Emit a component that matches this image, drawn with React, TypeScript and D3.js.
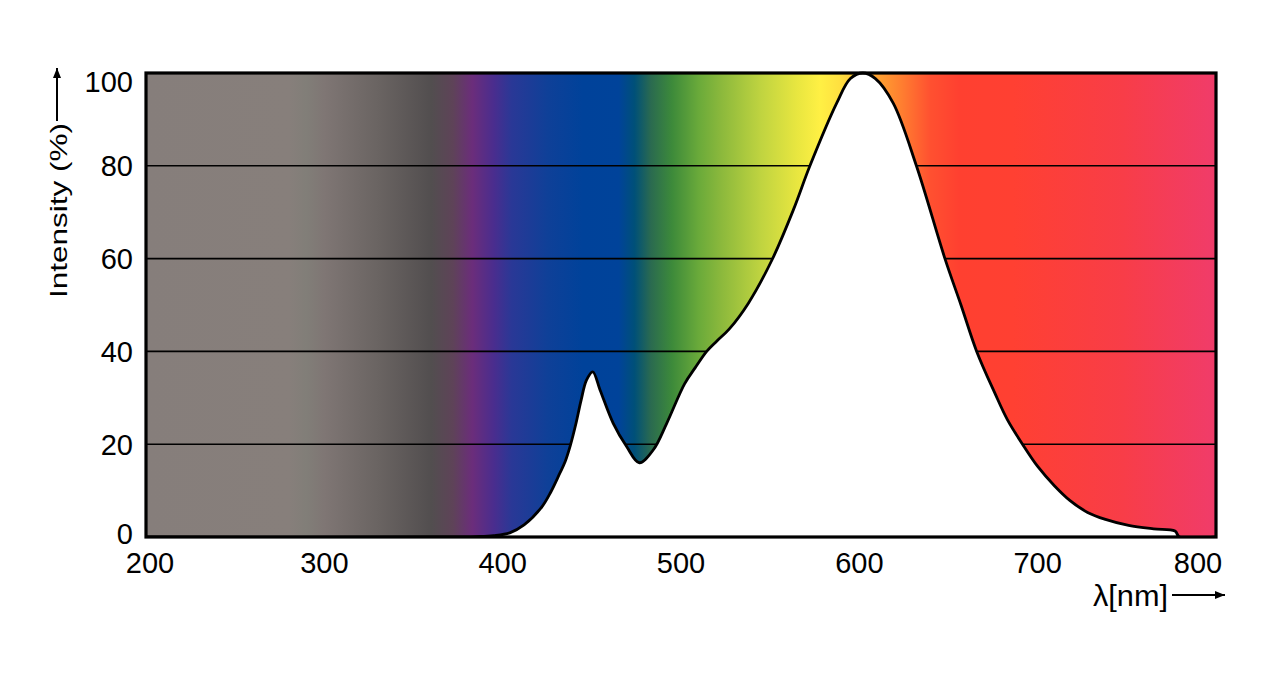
import { area, curveCatmullRom, line, scaleLinear } from "d3";

const wavelengths = [
  200, 370, 385, 395, 404, 412, 422, 427, 432, 435, 438, 441, 444, 447, 450.5,
  454.6, 462, 469.5, 476.6, 484.5, 492, 502, 508, 514.4, 520, 527, 537.8, 551,
  563, 572.3, 587.3, 595, 602, 609, 619, 632, 648, 657, 665.8, 676, 683, 691.5,
  700, 709.5, 718, 728, 738, 751, 765, 777, 779.5, 800,
];
const intensity = [
  0, 0, 0.1, 0.3, 0.9, 2.6, 6.5, 9.7, 13.7, 16.2, 19.8, 24.3, 29.5, 33.8, 35.6,
  31.7, 24.5, 19.5, 16, 18.8, 24.5, 33, 36.5, 40, 42.2, 44.8, 50.4, 59.7, 70.5,
  80, 93.5, 98.8, 100, 98.8, 93.5, 80, 60, 50, 40, 31, 25.3, 20, 15.2, 11, 7.9,
  5.3, 3.8, 2.5, 1.75, 1.3, 0, 0,
];

const xTicks = [200, 300, 400, 500, 600, 700, 800];
const yTicks = [0, 20, 40, 60, 80, 100];

const stopNm = [
  200, 280, 290, 300, 330, 360, 372, 383, 395, 405, 425, 445, 465, 474, 483,
  495, 510, 522, 545, 565, 578, 589, 611, 623, 640, 656, 686, 748, 800,
];
const stopColors = [
  "#867e7b", "#877f7b", "#817e78", "#7f7674", "#6a6462", "#524e4f", "#5e4358",
  "#6b2d7b", "#4a2d8e", "#2a3896", "#0f4098", "#00429a", "#00439a", "#005078",
  "#2a6a50", "#3d8a3a", "#6aaa3a", "#8ab83c", "#c0d440", "#e8e640", "#fff044",
  "#ffe040", "#ffa030", "#ff8030", "#ff5030", "#ff4030", "#ff4032", "#f83d48",
  "#f03c6a",
];

const left = 146;
const right = 1216;
const top = 73;
const bottom = 537;
const font = "'Liberation Sans', Arial, sans-serif";

export default function App() {
  const x = scaleLinear().domain([200, 800]).range([left, right]);
  const y = scaleLinear().domain([0, 100]).range([bottom, top]);
  const pts: [number, number][] = wavelengths.map((w, i) => [w, intensity[i]]);
  const curve = curveCatmullRom.alpha(0.5);

  const areaPath = area<[number, number]>()
    .curve(curve)
    .x((d) => x(d[0]))
    .y0(y(0))
    .y1((d) => y(d[1]))(pts);
  const linePath = line<[number, number]>()
    .curve(curve)
    .x((d) => x(d[0]))
    .y((d) => y(d[1]))(pts);

  return (
    <svg
      width={1279}
      height={688}
      style={{ position: "absolute", left: 0, top: 0, display: "block" }}
      fontFamily={font}
    >
      <defs>
        <linearGradient id="spectrum" x1={left} x2={right} y1={0} y2={0} gradientUnits="userSpaceOnUse">
          {stopNm.map((nm, i) => (
            <stop key={nm} offset={(nm - 200) / 600} stopColor={stopColors[i]} />
          ))}
        </linearGradient>
        <clipPath id="plot">
          <rect x={left} y={top - 2} width={right - left} height={bottom - top + 2} />
        </clipPath>
        <marker id="arrow" viewBox="0 0 10 8" refX={10} refY={4} markerWidth={10} markerHeight={8} markerUnits="userSpaceOnUse" orient="auto">
          <path d="M0,0 L10,4 L0,8 Z" fill="#000" />
        </marker>
      </defs>

      <rect x={left} y={top} width={right - left} height={bottom - top} fill="url(#spectrum)" />

      {yTicks.slice(1, -1).map((t) => (
        <line key={t} x1={left} x2={right} y1={y(t)} y2={y(t)} stroke="#000" strokeWidth={1.6} />
      ))}

      <g clipPath="url(#plot)">
        <path d={areaPath!} fill="#fff" />
        <path d={linePath!} fill="none" stroke="#000" strokeWidth={2.8} strokeLinejoin="round" />
      </g>

      <rect x={left} y={top} width={right - left} height={bottom - top} fill="none" stroke="#000" strokeWidth={3.2} />

      {yTicks.map((t, i) => (
        <text
          key={t}
          x={133}
          y={y(t) + (i === yTicks.length - 1 ? 9 : i === 0 ? -3 : 0)}
          dy="0.36em"
          textAnchor="end"
          fontSize={29}
        >
          {t}
        </text>
      ))}

      {xTicks.map((t, i) => (
        <text
          key={t}
          x={x(t) + (i === 0 ? 4 : i === xTicks.length - 1 ? -18 : 0)}
          y={573}
          textAnchor="middle"
          fontSize={29}
        >
          {t}
        </text>
      ))}

      <text
        transform="translate(67,298) rotate(-90)"
        fontSize={24}
        textLength={175}
        lengthAdjust="spacingAndGlyphs"
      >
        Intensity (%)
      </text>
      <line x1={57} y1={121} x2={57} y2={68} stroke="#000" strokeWidth={2} markerEnd="url(#arrow)" />

      <text x={1093} y={606} fontSize={29} textLength={75} lengthAdjust="spacingAndGlyphs">
        λ[nm]
      </text>
      <line x1={1172} y1={595} x2={1225} y2={595} stroke="#000" strokeWidth={2} markerEnd="url(#arrow)" />
    </svg>
  );
}
